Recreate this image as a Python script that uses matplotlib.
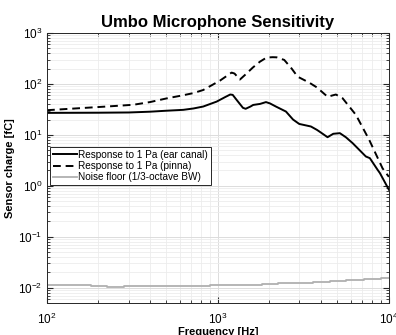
import matplotlib
matplotlib.use("Agg")
import matplotlib.pyplot as plt
from matplotlib.ticker import LogLocator, NullFormatter
import numpy as np

plt.rcParams['font.family'] = ['Liberation Sans', 'DejaVu Sans']

# Response to 1 Pa (ear canal)
f_ear = [100, 200, 300, 400, 500, 627, 720, 820, 983, 1100, 1180, 1220, 1290, 1400, 1452,
         1550, 1608, 1762, 1910, 2014, 2183, 2500, 2750, 2988, 3499, 3800, 4003, 4378,
         4728, 5168, 5600, 6131, 7336, 7740, 8590, 8860, 10000]
v_ear = [27.0, 27.2, 27.5, 28.5, 29.8, 31.0, 33.0, 36.0, 45.0, 55.0, 62.0, 61.0, 48.0, 34.0, 32.5,
         36.0, 38.7, 40.5, 44.0, 41.5, 36.0, 28.7, 20.0, 16.4, 14.6, 12.5, 11.1, 9.0,
         10.5, 10.8, 9.0, 6.9, 3.76, 3.49, 2.06, 1.78, 0.84]

# Response to 1 Pa (pinna)
f_pin = [100, 223, 320, 400, 501, 627, 717, 820, 1027, 1202, 1250, 1345, 1470, 1600, 1762,
         1927, 2089, 2204, 2443, 2700, 2924, 3422, 3800, 4378, 4898, 5357, 6414, 7670, 9187, 10000]
v_pin = [30.5, 36.0, 39.0, 44.0, 52.0, 60.0, 66.0, 76.0, 116.0, 167.0, 160.0, 122.0, 160.0, 210.0, 274.0,
         330.0, 335.0, 333.0, 296.0, 200.0, 139.0, 106.0, 85.0, 56.0, 62.0, 52.5, 24.7, 8.0, 2.2, 1.5]

# Noise floor (1/3-octave bands)
f_noise = [100, 125, 160, 200, 250, 315, 400, 500, 630, 800, 1000, 1250, 1600, 2000,
           2500, 3150, 4000, 5000, 6300, 8000, 10000]
v_noise = [0.0112, 0.0112, 0.0112, 0.0106, 0.0103, 0.0107, 0.0108, 0.0108, 0.0109, 0.0110,
           0.0111, 0.0114, 0.0114, 0.0116, 0.0122, 0.0125, 0.0130, 0.0133, 0.0141, 0.0151, 0.0155]

fig = plt.figure(figsize=(3.96, 3.35), dpi=100)
ax = fig.add_axes([0.1187, 0.0955, 0.8633, 0.806])

ax.plot(f_ear, v_ear, color='black', lw=1.4, label='Response to 1 Pa (ear canal)')
ax.plot(f_pin, v_pin, color='black', lw=1.4, ls=(0, (4, 2.5)), label='Response to 1 Pa (pinna)')
ax.step(f_noise, v_noise, where='mid', color='#b0b0b0', lw=1.3, label='Noise floor (1/3-octave BW)')

ax.set_xscale('log')
ax.set_yscale('log')
ax.set_xlim(100, 10000)
ax.set_ylim(0.005, 1000)

ax.yaxis.set_major_locator(LogLocator(base=10, numticks=10))
ax.yaxis.set_minor_locator(LogLocator(base=10, subs=np.arange(2, 10), numticks=20))
ax.xaxis.set_minor_locator(LogLocator(base=10, subs=np.arange(2, 10), numticks=20))
ax.xaxis.set_minor_formatter(NullFormatter())
ax.yaxis.set_minor_formatter(NullFormatter())

ax.grid(True, which='major', color='#dcdcdc', lw=0.7)
ax.grid(True, which='minor', color='#ececec', lw=0.6)
ax.set_axisbelow(True)

ax.tick_params(which='both', direction='in', top=True, right=True, labelsize=8.5, color='#262626')
ax.tick_params(which='major', length=4)
ax.tick_params(which='minor', length=2)
ax.tick_params(axis='x', pad=6)
for s in ax.spines.values():
    s.set_color('#262626')
    s.set_linewidth(0.7)

ax.set_title('Umbo Microphone Sensitivity', fontsize=12, fontweight='bold', pad=4)
ax.set_xlabel('Frequency [Hz]', fontsize=8, fontweight='bold', labelpad=0)
ax.set_ylabel('Sensor charge [fC]', fontsize=8, fontweight='bold', labelpad=2)

leg = ax.legend(loc='upper left', bbox_to_anchor=(0.009, 0.578), fontsize=7.2,
                frameon=True, fancybox=False, edgecolor='#262626', framealpha=1,
                borderpad=0.3, labelspacing=0.12, handlelength=2.4, handletextpad=0.1,
                borderaxespad=0)
leg.get_frame().set_linewidth(0.7)

fig.savefig('out.png', dpi=100)
